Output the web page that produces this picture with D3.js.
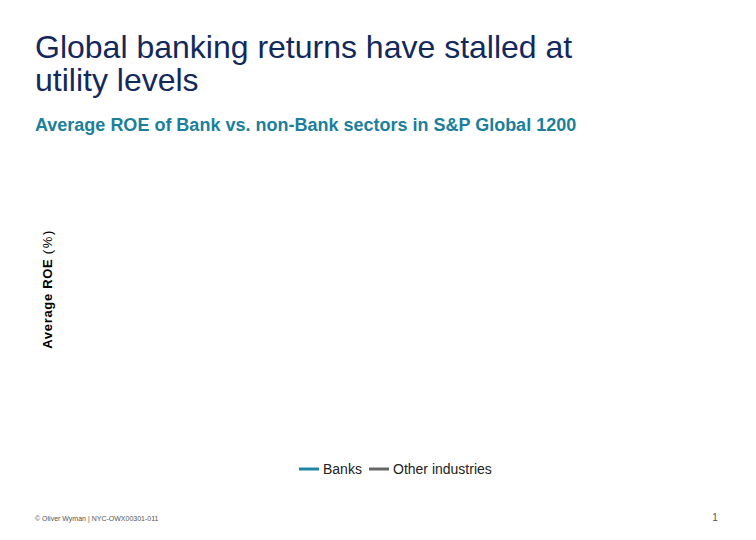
<!DOCTYPE html>
<html>
<head>
<meta charset="utf-8">
<script src="https://cdn.jsdelivr.net/npm/d3@7"></script>
<style>
body { margin: 0; background: #fff; }
svg { display: block; font-family: "Liberation Sans", Arial, sans-serif; }
</style>
</head>
<body>
<div id="canvas"></div>
<script>
// ----------------------------------------------------------
// DATA -----------------------------------------------------
// ----------------------------------------------------------
// the reference shows an empty plot area: only the legend is drawn
var series_names = ["Banks", "Other industries"];
var series_colors = ["#1f86a3", "#666666"];
var years = [];
var banks_values = [];
var other_values = [];

var title_lines = ["Global banking returns have stalled at", "utility levels"];
var subtitle = "Average ROE of Bank vs. non-Bank sectors in S&P Global 1200";

// ----------------------------------------------------------
// STRUCTURE ------------------------------------------------
// ----------------------------------------------------------
var W = 756, H = 540;
var plot = { left: 70, top: 150, right: 730, bottom: 440 };

var svg = d3.select("#canvas").append("svg")
  .attr("width", W)
  .attr("height", H);

// title
svg.append("g").attr("class", "title_group")
  .selectAll("text")
  .data(title_lines)
  .enter()
  .append("text")
  .attr("x", 35)
  .attr("y", (d, i) => 58 + i * 33)
  .attr("font-size", 32)
  .attr("fill", "#13295b")
  .text(d => d);

// subtitle
svg.append("text")
  .attr("x", 35)
  .attr("y", 131)
  .attr("font-size", 18)
  .attr("font-weight", "bold")
  .attr("fill", "#1b7f9c")
  .text(subtitle);

// y axis label
var ylab = svg.append("text")
  .attr("transform", "translate(52, 289) rotate(-90)")
  .attr("text-anchor", "middle")
  .attr("font-size", 13)
  .attr("fill", "#000");
ylab.append("tspan").attr("font-weight", "bold").attr("letter-spacing", 0.7).text("Average ROE ");
ylab.append("tspan").attr("letter-spacing", 1.6).text("(%)");

// ----------------------------------------------------------
// GFX ------------------------------------------------------
// ----------------------------------------------------------
var xScale = d3.scaleLinear()
  .domain(years.length ? d3.extent(years) : [0, 1])
  .range([plot.left, plot.right]);
var yScale = d3.scaleLinear()
  .domain([0, 20])
  .range([plot.bottom, plot.top]);

var line = d3.line()
  .x((d, i) => xScale(years[i]))
  .y(d => yScale(d));

svg.append("g").attr("class", "gfx_lines")
  .selectAll("path")
  .data([banks_values, other_values].filter(v => v.length))
  .enter()
  .append("path")
  .attr("d", line)
  .attr("fill", "none")
  .attr("stroke", (d, i) => series_colors[i])
  .attr("stroke-width", 3);

// legend
var legScale = d3.scaleOrdinal()
  .domain(series_names)
  .range([299, 369]);

var leg = svg.append("g").attr("class", "legend")
  .selectAll("g")
  .data(series_names)
  .enter()
  .append("g")
  .attr("transform", d => `translate(${legScale(d)}, 469)`);

leg.append("line")
  .attr("x1", 0).attr("x2", 20)
  .attr("stroke", (d, i) => series_colors[i])
  .attr("stroke-width", 3);

leg.append("text")
  .attr("x", 24)
  .attr("y", 5)
  .attr("font-size", 14)
  .attr("fill", "#222")
  .text(d => d);

// footer
svg.append("text")
  .attr("x", 35)
  .attr("y", 521)
  .attr("font-size", 7)
  .attr("fill", "#555")
  .text("© Oliver Wyman | NYC-OWX00301-011");

svg.append("text")
  .attr("x", 715)
  .attr("y", 521)
  .attr("text-anchor", "middle")
  .attr("font-size", 10)
  .attr("fill", "#555")
  .text("1");
</script>
</body>
</html>
